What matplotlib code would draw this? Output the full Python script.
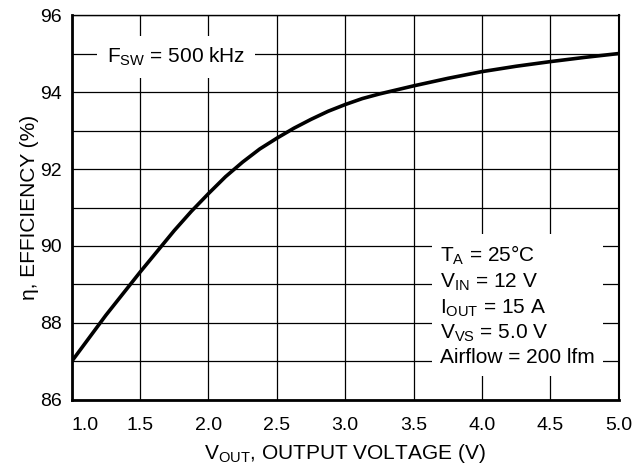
"""Efficiency vs output voltage curve (datasheet style)."""

import matplotlib

matplotlib.use("Agg")
import matplotlib.pyplot as plt

# Curve
V_OUT = [1.0, 1.25, 1.5, 1.75, 1.875, 2.0, 2.125, 2.25, 2.375, 2.5, 2.625, 2.75, 2.875, 3.0,
         3.125, 3.25, 3.5, 3.75, 4.0, 4.25, 4.5, 4.75, 5.0]
EFFICIENCY = [87.0, 88.2, 89.32, 90.4, 90.9, 91.36, 91.8, 92.18, 92.52, 92.8, 93.06, 93.29,
              93.5, 93.675, 93.83, 93.95, 94.16, 94.355, 94.53, 94.67, 94.79, 94.9, 95.0]

X_TICKS = [1.0, 1.5, 2.0, 2.5, 3.0, 3.5, 4.0, 4.5, 5.0]
Y_TICKS = [86, 88, 90, 92, 94, 96]
Y_GRID_MINOR = [87, 89, 91, 93, 95]

CONDITIONS = [
    r"$\mathregular{T_A}$ = 25°C",
    r"$\mathregular{V_{IN}}$ = 12 V",
    r"$\mathregular{I_{OUT}}$ = 15 A",
    r"$\mathregular{V_{VS}}$ = 5.0 V",
    "Airflow = 200 lfm",
]

plt.rcParams["font.family"] = ["Liberation Sans", "DejaVu Sans"]
plt.rcParams["mathtext.fontset"] = "custom"
plt.rcParams["mathtext.rm"] = "Liberation Sans"
plt.rcParams["mathtext.it"] = "Liberation Sans"


def main() -> None:
    fig = plt.figure(figsize=(6.34, 4.70), dpi=100)
    ax = fig.add_axes([0.113, 0.149, 0.863, 0.819])

    ax.set_xlim(1.0, 5.0)
    ax.set_ylim(86, 96)
    ax.set_xticks(X_TICKS)
    ax.set_yticks(Y_TICKS)
    ax.set_yticks(Y_GRID_MINOR, minor=True)
    ax.grid(True, color="black", linewidth=0.9)
    ax.grid(True, which="minor", axis="y", color="black", linewidth=0.9)
    ax.set_axisbelow(True)
    ax.tick_params(which="both", length=0)
    ax.tick_params(axis="x", pad=12, labelsize=14)
    ax.tick_params(axis="y", pad=7, labelsize=14)
    ax.set_xticklabels([f"{v:.1f}" for v in X_TICKS])
    ax.get_xticklabels()[0].set_horizontalalignment("left")

    for side, lw in (("left", 2.0), ("bottom", 2.0), ("top", 1.0), ("right", 1.5)):
        ax.spines[side].set_linewidth(lw)

    ax.plot(V_OUT, EFFICIENCY, color="black", linewidth=2.6, solid_joinstyle="round", zorder=3)

    ax.text(1.256, 94.91, r"$\mathregular{F_{SW}}$ = 500 kHz", fontsize=15, va="center", ha="left",
            bbox=dict(facecolor="white", edgecolor="none", pad=7), zorder=4)
    ax.text(3.693, 88.45, "\n".join(CONDITIONS), fontsize=15, va="center", ha="left",
            linespacing=1.27, bbox=dict(facecolor="white", edgecolor="none", pad=6), zorder=4)

    ax.set_xlabel(r"$\mathregular{V_{OUT}}$, OUTPUT VOLTAGE (V)", fontsize=15, labelpad=6)
    ax.set_ylabel("η, EFFICIENCY (%)", fontsize=15, labelpad=1)

    fig.savefig("out.png", dpi=100)
    plt.close(fig)


if __name__ == "__main__":
    main()
